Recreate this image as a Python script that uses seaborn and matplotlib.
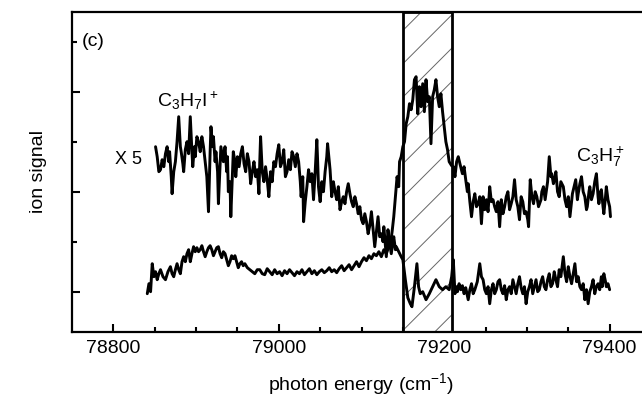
import numpy as np
import pandas as pd
import matplotlib
matplotlib.use("Agg")
import matplotlib.pyplot as plt
import seaborn as sns

# C3H7I+ signal (x5): high on the left, depleted at and after the resonance
energy_parent = [
    78851, 78853, 78855, 78857, 78859, 78861, 78863, 78865, 78867, 78868,
    78870, 78871, 78873, 78875, 78877, 78879, 78881, 78882, 78884, 78885,
    78887, 78889, 78891, 78893, 78895, 78896, 78898, 78899, 78901, 78903,
    78905, 78907, 78909, 78911, 78913, 78915, 78917, 78918, 78920, 78921,
    78923, 78924, 78926, 78927, 78929, 78930, 78932, 78933, 78935, 78937,
    78938, 78939, 78941, 78942, 78944, 78945, 78947, 78948, 78950, 78952,
    78954, 78956, 78958, 78960, 78962, 78964, 78966, 78968, 78970, 78972,
    78974, 78976, 78977, 78978, 78980, 78982, 78984, 78986, 78988, 78990,
    78992, 78994, 78996, 78998, 79000, 79002, 79004, 79006, 79008, 79010,
    79012, 79014, 79016, 79018, 79020, 79022, 79024, 79026, 79027, 79029,
    79030, 79032, 79034, 79036, 79038, 79040, 79042, 79044, 79046, 79047,
    79048, 79050, 79052, 79054, 79056, 79058, 79059, 79061, 79062, 79064,
    79066, 79068, 79070, 79072, 79074, 79076, 79078, 79080, 79082, 79084,
    79086, 79088, 79090, 79092, 79094, 79096, 79098, 79100, 79102, 79104,
    79106, 79108, 79110, 79112, 79114, 79116, 79118, 79120, 79122, 79124,
    79126, 79127, 79129, 79130, 79132, 79134, 79136, 79138, 79139, 79141,
    79142, 79145, 79148, 79150, 79153, 79156, 79159, 79161, 79164, 79167,
    79169, 79171, 79174, 79178, 79182, 79186, 79190, 79194, 79198, 79202,
    79206, 79209, 79211,
    79213, 79215, 79216, 79218, 79220, 79222, 79224, 79226, 79229, 79231,
    79233, 79235, 79237, 79240, 79243, 79245, 79247, 79249, 79251, 79253,
    79255, 79257, 79259, 79261, 79263, 79265, 79267, 79269, 79271, 79273,
    79275, 79277, 79279, 79281, 79283, 79285, 79287, 79289, 79291, 79293,
    79295, 79297, 79299, 79301, 79303, 79305, 79307, 79309, 79311, 79313,
    79315, 79317, 79319, 79321, 79323, 79325, 79327, 79329, 79331, 79333,
    79335, 79337, 79339, 79341, 79344, 79346, 79348, 79350, 79352, 79354,
    79356, 79358, 79360, 79362, 79364, 79366, 79368, 79370, 79372, 79374,
    79376, 79378, 79380, 79382, 79384, 79386, 79388, 79390, 79391, 79393,
    79395, 79396, 79398, 79400,
]
signal_parent = [
    1.45, 1.35, 1.20, 1.22, 1.32, 1.25, 1.38, 1.45, 1.30, 1.40,
    1.15, 0.98, 1.20, 1.30, 1.50, 1.75, 1.45, 1.40, 1.28, 1.20,
    1.42, 1.50, 1.38, 1.75, 1.40, 1.25, 1.45, 1.35, 1.55, 1.50,
    1.40, 1.55, 1.45, 1.30, 1.15, 0.80, 1.40, 1.65, 1.45, 1.55,
    1.30, 1.40, 1.20, 0.88, 1.25, 1.45, 1.35, 1.30, 1.45, 1.20,
    1.35, 1.00, 1.10, 0.75, 1.20, 1.40, 1.30, 1.15, 1.35, 1.25,
    1.38, 1.45, 1.28, 1.20, 1.38, 1.30, 1.08, 1.20, 1.30, 1.15,
    1.22, 0.98, 1.30, 1.55, 1.20, 1.10, 1.25, 1.12, 0.95, 1.20,
    1.10, 1.30, 1.25, 1.38, 1.47, 1.25, 1.30, 1.42, 1.15, 1.20,
    1.32, 1.22, 1.40, 1.35, 1.25, 1.38, 1.30, 1.10, 0.95, 1.15,
    0.70, 0.90, 1.05, 1.22, 1.10, 1.18, 0.92, 1.20, 1.52, 1.30,
    1.05, 0.90, 1.10, 1.00, 1.20, 1.35, 1.48, 1.30, 1.22, 0.95,
    1.10, 1.00, 0.92, 1.05, 0.82, 0.90, 0.95, 0.88, 1.00, 1.08,
    0.98, 0.90, 0.85, 0.95, 0.88, 0.78, 0.85, 0.72, 0.68, 0.78,
    0.70, 0.58, 0.66, 0.80, 0.62, 0.45, 0.60, 0.75, 0.55, 0.58,
    0.50, 0.65, 0.45, 0.35, 0.62, 0.48, 0.38, 0.50, 0.55, 0.42,
    0.45, 0.40, 0.35, 0.32, 0.12, -0.06, -0.12, -0.15, 0.05, 0.28,
    0.05, -0.02, 0.00, -0.08, -0.02, 0.05, 0.12, 0.05, 0.02, 0.05,
    0.02, 0.15, 0.32,
    -0.02, 0.05, 0.00, 0.08, 0.02, 0.06, -0.02, 0.04, -0.08, 0.02,
    0.08, -0.02, 0.02, 0.10, 0.28, 0.15, 0.12, 0.02, -0.02, 0.05,
    -0.12, 0.02, 0.08, -0.02, 0.02, 0.10, 0.12, 0.02, -0.02, 0.06,
    -0.08, 0.02, 0.05, -0.02, 0.12, 0.05, -0.02, 0.08, 0.15, 0.04,
    -0.02, 0.05, -0.12, 0.00, 0.05, 0.12, -0.02, 0.05, 0.12, 0.00,
    0.02, 0.10, 0.15, 0.05, 0.02, 0.12, 0.18, 0.05, 0.08, 0.20,
    0.12, 0.05, 0.22, 0.15, 0.35, 0.18, 0.10, 0.25, 0.15, 0.08,
    0.18, 0.28, 0.10, 0.15, 0.05, 0.02, 0.08, -0.08, 0.02, -0.12,
    0.00, 0.05, 0.12, -0.02, 0.05, 0.08, 0.02, 0.15, 0.05, 0.18,
    0.10, 0.05, 0.08, 0.02,
]

# C3H7+ signal: low on the left, jumps up inside the resonance window
energy_frag = [
    78841, 78843, 78845, 78847, 78849, 78851, 78853, 78855, 78857, 78860,
    78863, 78866, 78869, 78871, 78873, 78875, 78877, 78879, 78881, 78883,
    78885, 78887, 78889, 78891, 78893, 78895, 78897, 78899, 78901, 78903,
    78905, 78907, 78909, 78911, 78913, 78915, 78917, 78919, 78921, 78923,
    78925, 78927, 78929, 78931, 78933, 78935, 78937, 78939, 78941, 78943,
    78945, 78947, 78949, 78951, 78953, 78955, 78957, 78959, 78962, 78965,
    78968, 78971, 78974, 78977, 78980, 78983, 78986, 78989, 78992, 78995,
    78998, 79001, 79004, 79007, 79010, 79013, 79016, 79019, 79022, 79025,
    79028, 79031, 79034, 79037, 79040, 79043, 79046, 79049, 79052, 79055,
    79058, 79061, 79064, 79067, 79070, 79073, 79076, 79079, 79082, 79085,
    79088, 79091, 79094, 79097, 79100, 79103, 79106, 79109, 79112, 79115,
    79118, 79121, 79124, 79127, 79130, 79133, 79135, 79137, 79139, 79141,
    79143, 79145, 79146, 79148, 79150, 79152, 79154, 79156, 79158, 79160,
    79162, 79164, 79166, 79168, 79170, 79172, 79174, 79176, 79178, 79180,
    79182, 79184, 79186, 79188, 79190, 79192, 79194, 79196, 79198, 79200,
    79202, 79204, 79206, 79209, 79211, 79213, 79215, 79217, 79219, 79222,
    79224, 79226, 79228, 79229, 79231, 79233, 79235, 79237, 79239, 79241,
    79243, 79245, 79247, 79249, 79251, 79253, 79255, 79257, 79259, 79261,
    79263, 79265, 79267, 79269, 79271, 79273, 79275, 79277, 79279, 79281,
    79283, 79285, 79287, 79289, 79291, 79293, 79295, 79297, 79299, 79301,
    79302, 79304, 79306, 79308, 79310, 79312, 79314, 79317, 79318, 79320,
    79322, 79323, 79325, 79327, 79329, 79330, 79332, 79334, 79335, 79337,
    79339, 79341, 79344, 79346, 79348, 79350, 79352, 79354, 79355, 79357,
    79359, 79361, 79362, 79364, 79366, 79368, 79370, 79372, 79373, 79375,
    79376, 79378, 79380, 79382, 79384, 79386, 79387, 79389, 79390, 79392,
    79393, 79395, 79396, 79398, 79400, 79401,
]
signal_frag = [
    -0.02, 0.08, 0.00, 0.28, 0.15, 0.20, 0.12, 0.18, 0.22, 0.15,
    0.12, 0.20, 0.25, 0.18, 0.15, 0.22, 0.28, 0.22, 0.18, 0.30,
    0.35, 0.30, 0.38, 0.42, 0.30, 0.38, 0.45, 0.40, 0.44, 0.40,
    0.42, 0.46, 0.40, 0.35, 0.40, 0.44, 0.46, 0.42, 0.36, 0.40,
    0.44, 0.45, 0.38, 0.34, 0.40, 0.38, 0.32, 0.26, 0.30, 0.36,
    0.33, 0.36, 0.30, 0.24, 0.28, 0.30, 0.26, 0.28, 0.24, 0.22,
    0.20, 0.18, 0.22, 0.22, 0.18, 0.17, 0.23, 0.20, 0.17, 0.22,
    0.18, 0.20, 0.16, 0.21, 0.18, 0.22, 0.19, 0.16, 0.20, 0.18,
    0.22, 0.17, 0.20, 0.23, 0.18, 0.21, 0.17, 0.20, 0.22, 0.19,
    0.21, 0.24, 0.20, 0.22, 0.19, 0.23, 0.26, 0.21, 0.24, 0.27,
    0.22, 0.26, 0.30, 0.25, 0.30, 0.34, 0.31, 0.36, 0.33, 0.38,
    0.36, 0.40, 0.35, 0.42, 0.38, 0.45, 0.48, 0.60, 0.75, 0.95,
    1.15, 1.05, 1.30, 1.35, 1.45, 1.50, 1.68, 1.75, 1.88, 1.82,
    1.92, 2.12, 2.15, 1.78, 2.05, 1.85, 2.08, 1.80, 2.12, 1.90,
    1.95, 1.48, 1.95, 2.02, 2.12, 1.95, 1.85, 1.98, 1.80, 1.65,
    1.50, 1.42, 1.30, 1.26, 1.25, 1.15, 1.30, 1.35, 1.28, 1.18,
    1.25, 1.12, 1.00, 1.08, 0.90, 0.75, 0.90, 0.98, 0.85, 0.88,
    0.95, 0.68, 0.95, 0.82, 0.92, 0.80, 1.05, 0.90, 0.92, 0.85,
    0.80, 0.90, 0.65, 0.92, 0.78, 0.85, 0.95, 1.00, 0.82, 0.88,
    0.95, 1.12, 0.92, 0.85, 0.72, 0.95, 0.90, 0.78, 0.80, 0.72,
    0.65, 1.12, 0.95, 0.88, 1.00, 0.95, 0.85, 0.92, 1.00, 1.05,
    0.92, 0.98, 1.10, 1.35, 1.15, 1.18, 1.08, 1.15, 1.20, 1.00,
    0.95, 1.10, 1.05, 0.92, 0.85, 0.95, 0.75, 0.90, 0.98, 1.05,
    1.12, 0.92, 0.98, 1.08, 1.15, 1.00, 0.95, 0.82, 0.85, 1.00,
    1.05, 0.92, 0.98, 1.10, 1.18, 0.95, 0.88, 1.00, 1.02, 0.85,
    0.78, 0.95, 1.05, 0.92, 0.85, 0.75,
]
assert len(energy_parent) == len(signal_parent)
assert len(energy_frag) == len(signal_frag)

window = (79150, 79210)
x_major = [78800, 79000, 79200, 79400]

sns.set_style("ticks")
plt.rcParams["font.family"] = ["Liberation Sans", "DejaVu Sans"]
plt.rcParams["mathtext.fontset"] = "custom"
plt.rcParams["mathtext.rm"] = "Liberation Sans"
plt.rcParams["hatch.linewidth"] = 0.7
for key in ["text.color", "axes.labelcolor", "xtick.color", "ytick.color", "axes.edgecolor"]:
    plt.rcParams[key] = "black"

df_parent = pd.DataFrame({"energy": energy_parent, "signal": signal_parent})
df_frag = pd.DataFrame({"energy": energy_frag, "signal": signal_frag})

fig = plt.figure(figsize=(6.42, 3.98), dpi=100)
ax = fig.add_axes([72 / 642, 1 - 331.7 / 398, 579 / 642, 320 / 398])

# resonance window: grey hatch + black frame
ax.axvspan(*window, facecolor="white", edgecolor="#666666", hatch="/", lw=0, zorder=1)
ax.axvspan(*window, facecolor="none", edgecolor="black", lw=2.0, zorder=3)

sns.lineplot(data=df_parent, x="energy", y="signal", estimator=None, sort=False,
             color="black", lw=2.1, ax=ax, zorder=2)
sns.lineplot(data=df_frag, x="energy", y="signal", estimator=None, sort=False,
             color="black", lw=2.1, ax=ax, zorder=2)

ax.set_xlim(78750, 79450)
ax.set_ylim(-0.40, 2.80)
ax.set_xticks(x_major)
ax.set_xticks([78850, 78900, 78950, 79050, 79100, 79150, 79250, 79300, 79350], minor=True)
ax.set_yticks([0, 1, 2])
ax.set_yticks([0.5, 1.5, 2.5], minor=True)
ax.set_yticklabels([])
ax.tick_params(which="both", direction="in", width=1.5, labelsize=14, pad=6)
ax.tick_params(which="major", length=6)
ax.tick_params(which="minor", length=3.5)
for s in ax.spines.values():
    s.set_linewidth(1.6)
    s.set_visible(True)

ax.set_xlabel(r"photon energy (cm$\mathregular{^{-1}}$)", fontsize=14, labelpad=10)
ax.set_ylabel("ion signal", fontsize=14, labelpad=12)

ax.text(78762, 2.50, "(c)", fontsize=14, ha="left", va="center")
ax.text(78818, 1.32, "X 5", fontsize=13, ha="center", va="center")
ax.text(78853, 1.85, r"$\mathregular{C_3H_7I^+}$", fontsize=14, ha="left", va="baseline")
ax.text(79359, 1.30, r"$\mathregular{C_3H_7^+}$", fontsize=14, ha="left", va="baseline")

fig.savefig("out.png", dpi=100)
